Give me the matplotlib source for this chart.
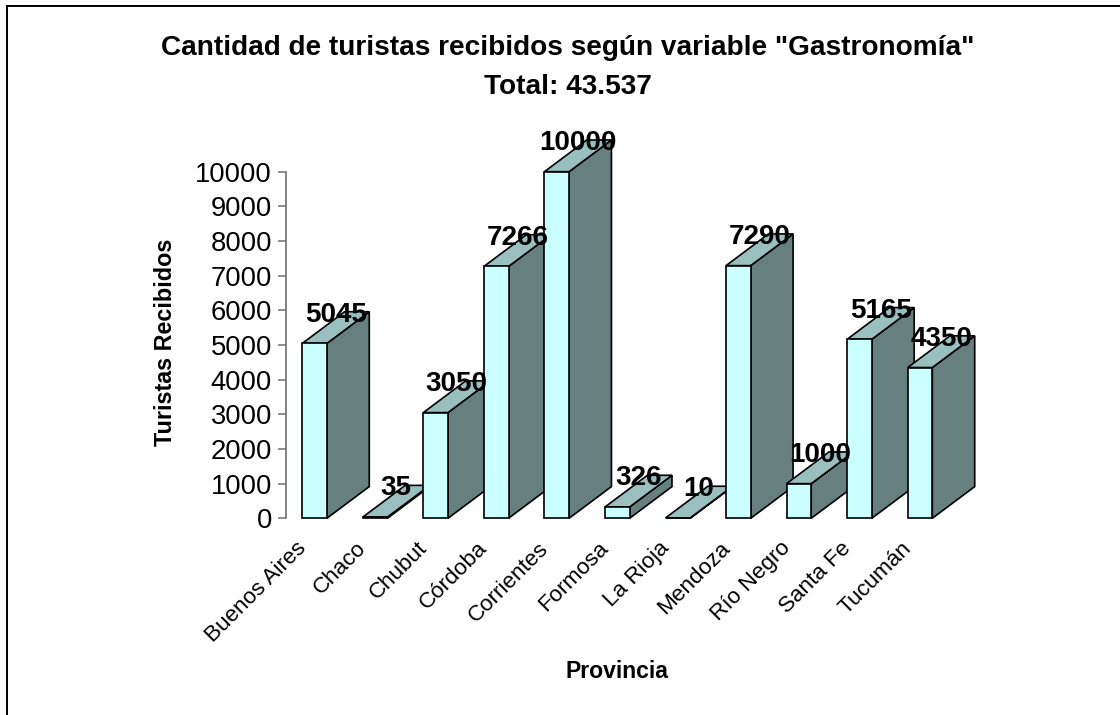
import matplotlib
matplotlib.use('Agg')
import matplotlib.pyplot as plt
from matplotlib.patches import Polygon, Rectangle
from matplotlib.transforms import ScaledTranslation

plt.rcParams['font.family'] = ['Liberation Sans', 'DejaVu Sans']

provincias = ['Buenos Aires', 'Chaco', 'Chubut', 'Córdoba', 'Corrientes', 'Formosa',
              'La Rioja', 'Mendoza', 'Río Negro', 'Santa Fe', 'Tucumán']
turistas = [5045, 35, 3050, 7266, 10000, 326, 10, 7290, 1000, 5165, 4350]
y_ticks = [0, 1000, 2000, 3000, 4000, 5000, 6000, 7000, 8000, 9000, 10000]

W, H = 1120, 715
bar_w = 0.407
depth_x = 0.70
depth_y = 915
col_front = '#CCFFFF'
col_top = '#99BFBF'
col_side = '#668080'

fig = plt.figure(figsize=(W / 100, H / 100), dpi=100, facecolor='white')

# chart frame, only left and top edges fall inside the picture
fig.add_artist(Rectangle((6.5 / W, -0.5), 2, 1.5 - 5.5 / H, transform=fig.transFigure,
                         fill=False, edgecolor='black', linewidth=1.4))

ax = fig.add_axes([285.5 / W, 1 - 518.3 / H, 666 / W, 346.6 / H])
ax.set_xlim(-0.48, 10.52)
ax.set_ylim(0, 10000)
ax.patch.set_alpha(0)

for s in ['top', 'right', 'bottom']:
    ax.spines[s].set_visible(False)
ax.spines['left'].set_color('#707070')
ax.spines['left'].set_linewidth(1.2)

# 3d look: side and top faces, then the front bar
for i, val in enumerate(turistas):
    x0 = i - bar_w / 2
    x1 = i + bar_w / 2
    z = 2 + i * 2
    side = [(x1, 0), (x1 + depth_x, depth_y), (x1 + depth_x, val + depth_y), (x1, val)]
    top = [(x0, val), (x1, val), (x1 + depth_x, val + depth_y), (x0 + depth_x, val + depth_y)]
    ax.add_patch(Polygon(side, closed=True, facecolor=col_side, edgecolor='black',
                         linewidth=1.2, clip_on=False, zorder=z, joinstyle='miter'))
    ax.add_patch(Polygon(top, closed=True, facecolor=col_top, edgecolor='black',
                         linewidth=1.2, clip_on=False, zorder=z, joinstyle='miter'))
    ax.bar(i, val, width=bar_w, color=col_front, edgecolor='black', linewidth=1.2,
           clip_on=False, zorder=z + 1)
    # value labels sit on the back edge of the top face
    ax.text(i + depth_x / 2, val + depth_y - 90, str(val), fontsize=20, fontweight='bold',
            ha='center', va='center', zorder=100, clip_on=False)

ax.set_yticks(y_ticks)
ax.tick_params(axis='y', labelsize=19.7, length=5.8, width=1.1, color='#707070', pad=4)
ax.set_xticks(range(len(provincias)))
ax.set_xticklabels(provincias, rotation=45, ha='right', rotation_mode='anchor', fontsize=16.2)
ax.tick_params(axis='x', length=0, pad=14)
shift = ScaledTranslation(-19 / 100, 0, fig.dpi_scale_trans)
for lab in ax.get_xticklabels():
    lab.set_transform(lab.get_transform() + shift)

fig.text(567.5 / W, 1 - 48 / H, 'Cantidad de turistas recibidos según variable "Gastronomía"',
         fontsize=20.15, fontweight='bold', ha='center', va='center')
fig.text(567.5 / W, 1 - 87 / H, 'Total: 43.537', fontsize=20.15, fontweight='bold',
         ha='center', va='center')
fig.text(165 / W, 1 - 342 / H, 'Turistas Recibidos', fontsize=16.8, fontweight='bold',
         rotation=90, ha='center', va='center')
fig.text(617 / W, 1 - 672 / H, 'Provincia', fontsize=16.6, fontweight='bold',
         ha='center', va='center')

fig.savefig('out.png', dpi=100)
